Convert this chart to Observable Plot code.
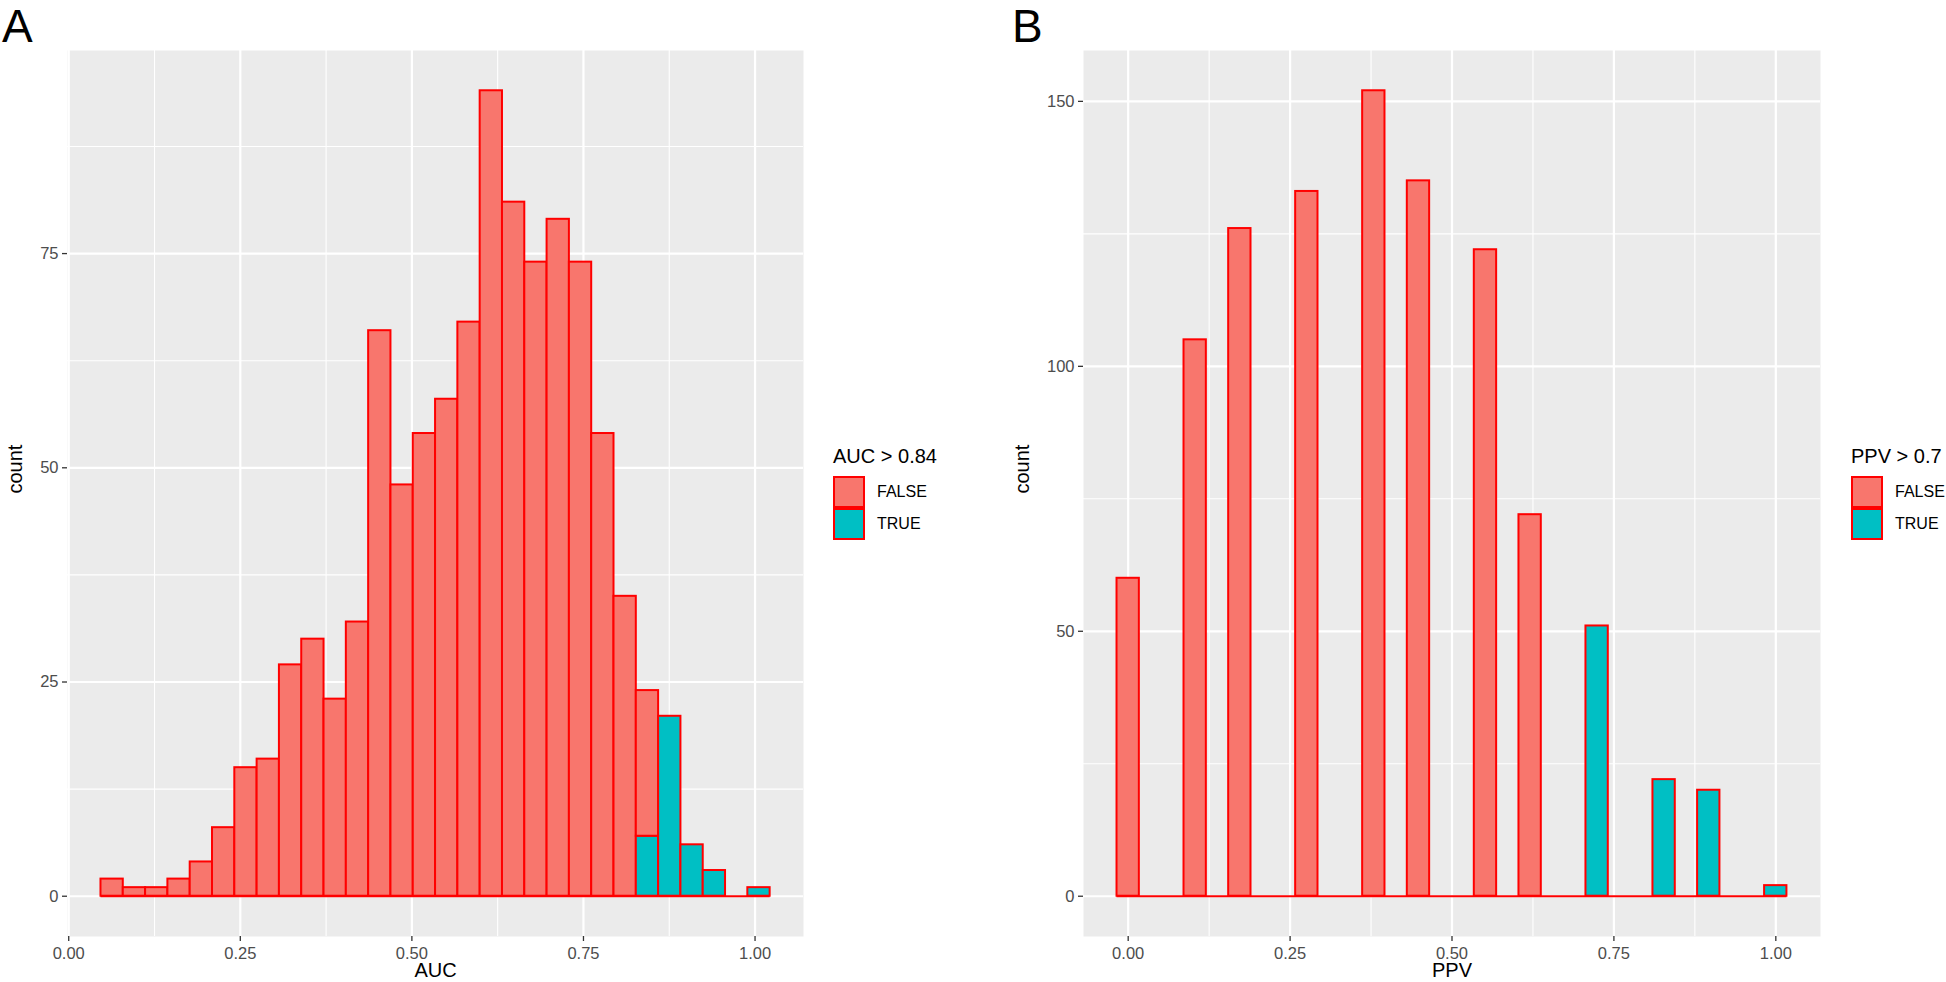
<!DOCTYPE html>
<html>
<head>
<meta charset="utf-8">
<script src="https://cdn.jsdelivr.net/npm/d3@7"></script>
<script src="https://cdn.jsdelivr.net/npm/@observablehq/plot@0.6"></script>
<style>
  html, body { margin: 0; padding: 0; background: #fff; }
  #root { position: relative; width: 1946px; height: 982px; overflow: hidden; background: #fff;
          font-family: "Liberation Sans", Arial, Helvetica, sans-serif; }
  .panel { position: absolute; top: 0; }
  .tag { position: absolute; font-size: 46px; line-height: 46px; color: #000; }
  .lg-title { position: absolute; font-size: 20px; line-height: 20px; color: #000; white-space: nowrap; }
  .lg-key { position: absolute; width: 28px; height: 28px; border: 2px solid red; }
  .lg-label { position: absolute; font-size: 16px; line-height: 16px; color: #000; }
</style>
</head>
<body>
<div id="root"></div>
<script>
// ---------------- data ----------------
// Panel A: AUC histogram, 30 bins
const aucBinStart = 0.047;
const aucBinWidth = 0.0325;
const aucFalse = [2, 1, 1, 2, 4, 8, 15, 16, 27, 30, 23, 32, 66, 48, 54, 58, 67, 94, 81, 74, 79, 74, 54, 35, 17, 0, 0, 0, 0, 0];
const aucTrue  = [0, 0, 0, 0, 0, 0, 0, 0, 0, 0, 0, 0, 0, 0, 0, 0, 0, 0, 0, 0, 0, 0, 0, 0, 7, 21, 6, 3, 0, 1];

// Panel B: PPV histogram, 30 bins
const ppvBinStart = -0.01724;
const ppvBinWidth = 0.03448;
const ppvFalse = [60, 0, 0, 105, 0, 126, 0, 0, 133, 0, 0, 152, 0, 135, 0, 0, 122, 0, 72, 0, 0, 0, 0, 0, 0, 0, 0, 0, 0, 0];
const ppvTrue  = [0, 0, 0, 0, 0, 0, 0, 0, 0, 0, 0, 0, 0, 0, 0, 0, 0, 0, 0, 0, 0, 51, 0, 0, 22, 0, 20, 0, 0, 2];

const groups = ["FALSE", "TRUE"];
const groupColors = ["#F8766D", "#00BFC4"];

const xTicks = [0, 0.25, 0.5, 0.75, 1];
const xMinor = [0.125, 0.375, 0.625, 0.875];
const aucYTicks = [0, 25, 50, 75];
const aucYMinor = [12.5, 37.5, 62.5, 87.5];
const ppvYTicks = [0, 50, 100, 150];
const ppvYMinor = [25, 75, 125];

const FONT = '"Liberation Sans", Arial, Helvetica, sans-serif';

// --------------- builder ---------------
function buildBars(fArr, tArr, start, w) {
  const rows = [];
  fArr.forEach((f, i) => {
    const t = tArr[i];
    const x1 = start + i * w, x2 = x1 + w;
    if (t > 0) rows.push({x1, x2, y1: 0, y2: t, g: "TRUE"});
    if (f > 0) rows.push({x1, x2, y1: t, y2: t + f, g: "FALSE"});
  });
  return rows;
}

function panel(o) {
  const bars = buildBars(o.fArr, o.tArr, o.start, o.w);
  const n = o.fArr.length;
  const zeroLine = [{y: 0, x1: o.start, x2: o.start + n * o.w}];
  return Plot.plot({
    width: o.width,
    height: 982,
    marginLeft: o.marginLeft,
    marginRight: o.marginRight,
    marginTop: 50,
    marginBottom: 46,
    style: {fontFamily: FONT, fontSize: "16px", background: "transparent", overflow: "visible"},
    x: {domain: o.xDomain},
    y: {domain: o.yDomain},
    color: {domain: groups, range: groupColors},
    marks: [
      Plot.frame({fill: "#EBEBEB", stroke: null}),
      Plot.gridX(xMinor, {stroke: "white", strokeOpacity: 1, strokeWidth: 1.1}),
      Plot.gridY(o.yMinor, {stroke: "white", strokeOpacity: 1, strokeWidth: 1.1}),
      Plot.gridX(xTicks, {stroke: "white", strokeOpacity: 1, strokeWidth: 2.2}),
      Plot.gridY(o.yTicks, {stroke: "white", strokeOpacity: 1, strokeWidth: 2.2}),
      Plot.ruleY(zeroLine, {y: "y", x1: "x1", x2: "x2", stroke: "red", strokeWidth: 2}),
      Plot.rect(bars, {x1: "x1", x2: "x2", y1: "y1", y2: "y2", fill: "g", stroke: "red", strokeWidth: 2}),
      Plot.axisX(xTicks, {tickFormat: d3.format(".2f"), tickSize: 5, tickPadding: 6, label: null,
                          fontSize: 16.5, fill: "#4D4D4D", stroke: "#333", strokeWidth: 1.3}),
      Plot.axisY(o.yTicks, {tickSize: 5, tickPadding: 4, label: null,
                            fontSize: 16.5, fill: "#4D4D4D", stroke: "#333", strokeWidth: 1.3}),
      Plot.text([o.xTitle], {text: d => d, frameAnchor: "bottom", lineAnchor: "middle", dy: 34, fontSize: 20, fill: "#000"}),
      Plot.text([o.yTitle], {text: d => d, frameAnchor: "left", lineAnchor: "middle", dx: o.yTitleDx, rotate: -90, fontSize: 20, fill: "#000"})
    ]
  });
}

const root = document.getElementById("root");

function place(el, left) {
  const wrap = document.createElement("div");
  wrap.className = "panel";
  wrap.style.left = left + "px";
  wrap.appendChild(el);
  root.appendChild(wrap);
}

place(panel({
  fArr: aucFalse, tArr: aucTrue, start: aucBinStart, w: aucBinWidth,
  width: 820, marginLeft: 67, marginRight: 17,
  xDomain: [-0.00178, 1.0706], yDomain: [-4.7, 98.7],
  yTicks: aucYTicks, yMinor: aucYMinor,
  xTitle: "AUC", yTitle: "count", yTitleDx: -52
}), 0);

place(panel({
  fArr: ppvFalse, tArr: ppvTrue, start: ppvBinStart, w: ppvBinWidth,
  width: 946, marginLeft: 83, marginRight: 126,
  xDomain: [-0.0690, 1.0690], yDomain: [-7.6, 159.6],
  yTicks: ppvYTicks, yMinor: ppvYMinor,
  xTitle: "PPV", yTitle: "count", yTitleDx: -61
}), 1000);

// panel tags
function addText(cls, txt, left, top) {
  const d = document.createElement("div");
  d.className = cls;
  d.textContent = txt;
  d.style.left = left + "px";
  d.style.top = top + "px";
  root.appendChild(d);
  return d;
}
addText("tag", "A", 2, 3);
addText("tag", "B", 1012, 3);

// legends
function legend(title, left) {
  addText("lg-title", title, left, 446);
  groups.forEach((g, i) => {
    const k = document.createElement("div");
    k.className = "lg-key";
    k.style.left = left + "px";
    k.style.top = (476 + i * 32) + "px";
    k.style.background = groupColors[i];
    root.appendChild(k);
    addText("lg-label", g, left + 44, 484 + i * 32);
  });
}
legend("AUC > 0.84", 833);
legend("PPV > 0.7", 1851);
</script>
</body>
</html>
